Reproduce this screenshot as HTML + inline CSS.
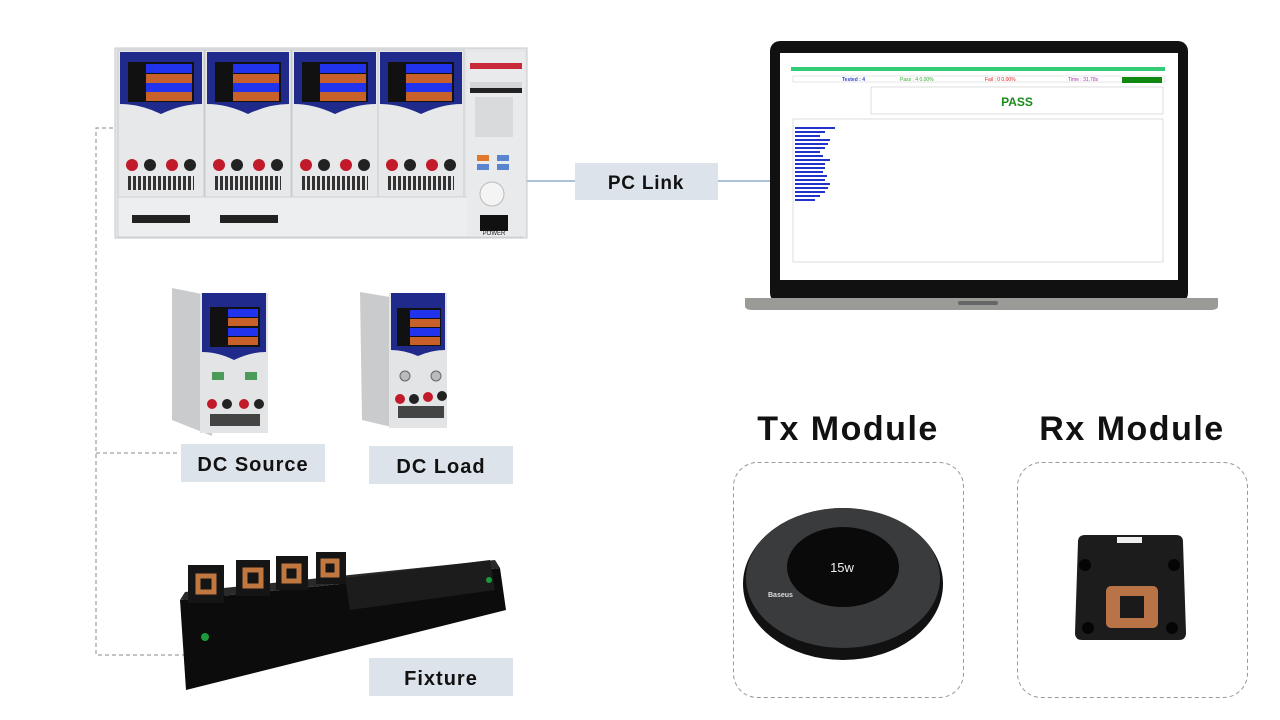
<!DOCTYPE html>
<html><head><meta charset="utf-8"><style>
html,body{margin:0;padding:0;background:#fff;width:1280px;height:720px;overflow:hidden}
svg{display:block}
.lbl{font-family:"Liberation Sans",sans-serif;font-weight:bold;fill:#111}
</style></head><body>
<svg width="1280" height="720" viewBox="0 0 1280 720" xmlns="http://www.w3.org/2000/svg">
<defs>
<g id="mod">
  <rect x="0" y="0" width="86" height="148" fill="#e6e8ea" stroke="#c8cacc"/>
  <path d="M2 2 H84 V54 Q64 54 43 64 Q22 54 2 54 Z" fill="#1f2a8a"/>
  <rect x="10" y="12" width="66" height="40" fill="#111"/>
  <rect x="28" y="14" width="46" height="9" fill="#2233ee"/>
  <rect x="28" y="24" width="46" height="9" fill="#c8602a"/>
  <rect x="28" y="33" width="46" height="9" fill="#2233ee"/>
  <rect x="28" y="42" width="46" height="9" fill="#c8602a"/>
  <circle cx="14" cy="115" r="6" fill="#c21a2a"/><circle cx="32" cy="115" r="6" fill="#222"/>
  <circle cx="54" cy="115" r="6" fill="#c21a2a"/><circle cx="72" cy="115" r="6" fill="#222"/>
  <rect x="10" y="126" width="66" height="14" fill="#333"/>
  <g stroke="#e6e8ea" stroke-width="2"><path d="M14 126V140M19 126V140M24 126V140M29 126V140M34 126V140M39 126V140M44 126V140M49 126V140M54 126V140M59 126V140M64 126V140M69 126V140M74 126V140"/></g>
</g>
</defs>

<g stroke="#888" stroke-dasharray="4,3" fill="none" stroke-width="1">
  <path d="M120 128 H96 V655 H190"/>
  <path d="M96 453 H178"/>
</g>

<rect x="115" y="48" width="412" height="190" fill="#e4e6e8" stroke="#c8cacc"/>
<use href="#mod" x="118" y="50"/>
<use href="#mod" x="205" y="50"/>
<use href="#mod" x="292" y="50"/>
<use href="#mod" x="378" y="50"/>
<rect x="118" y="197" width="404" height="40" fill="#eceef0" stroke="#cfd1d3"/>
<rect x="132" y="215" width="58" height="8" fill="#222"/>
<rect x="220" y="215" width="58" height="8" fill="#222"/>
<rect x="467" y="52" width="58" height="184" fill="#e8eaec"/>
<rect x="470" y="63" width="52" height="6" fill="#c82a3a"/>
<rect x="470" y="82" width="52" height="7" fill="#d4d6d8"/>
<rect x="470" y="88" width="52" height="5" fill="#222"/>
<rect x="475" y="97" width="38" height="40" fill="#d8dadc"/>
<rect x="477" y="155" width="12" height="6" fill="#e2772a"/><rect x="497" y="155" width="12" height="6" fill="#5a84d0"/>
<rect x="477" y="164" width="12" height="6" fill="#5a84d0"/><rect x="497" y="164" width="12" height="6" fill="#5a84d0"/>
<circle cx="492" cy="194" r="12" fill="#f4f4f4" stroke="#bbb"/>
<rect x="480" y="215" width="28" height="16" fill="#111"/>
<text x="494" y="235" font-size="6" font-family="Liberation Sans" text-anchor="middle" fill="#222">POWER</text>

<path d="M527 181 H575 M718 181 H770" stroke="#a8c2da" stroke-width="2"/>
<rect x="575" y="163" width="143" height="37" fill="#dde3ea"/>
<text x="646" y="189" class="lbl" font-size="19" text-anchor="middle" letter-spacing="0.8">PC Link</text>

<rect x="770" y="41" width="418" height="262" rx="10" fill="#111"/>
<rect x="780" y="53" width="398" height="227" fill="#fff"/>
<rect x="791" y="67" width="374" height="4" fill="#33cc77"/>
<rect x="793" y="76" width="372" height="6" fill="#fff" stroke="#ccc" stroke-width="0.5"/>
<text x="842" y="81" font-size="5" fill="#3344cc" font-family="Liberation Sans" font-weight="bold">Tested : 4</text>
<text x="900" y="81" font-size="5" fill="#33aa33" font-family="Liberation Sans">Pass : 4  0.00%</text>
<text x="985" y="81" font-size="5" fill="#dd2222" font-family="Liberation Sans">Fail : 0  0.00%</text>
<text x="1068" y="81" font-size="5" fill="#aa33aa" font-family="Liberation Sans">Time : 31.78s</text>
<rect x="1122" y="77" width="40" height="6" fill="#118811"/>
<rect x="871" y="87" width="292" height="27" fill="#fff" stroke="#bbb" stroke-width="0.5"/>
<text x="1017" y="106" font-size="12" fill="#1a8a1a" font-family="Liberation Sans" font-weight="bold" text-anchor="middle">PASS</text>
<rect x="793" y="119" width="370" height="143" fill="#fff" stroke="#bbb" stroke-width="0.5"/>
<g fill="#2233cc"><rect x="795" y="127" width="40" height="2"/><rect x="795" y="131" width="30" height="2"/><rect x="795" y="135" width="25" height="2"/><rect x="795" y="139" width="35" height="2"/><rect x="795" y="143" width="33" height="2"/><rect x="795" y="147" width="30" height="2"/><rect x="795" y="151" width="25" height="2"/><rect x="795" y="155" width="28" height="2"/><rect x="795" y="159" width="35" height="2"/><rect x="795" y="163" width="30" height="2"/><rect x="795" y="167" width="30" height="2"/><rect x="795" y="171" width="28" height="2"/><rect x="795" y="175" width="32" height="2"/><rect x="795" y="179" width="30" height="2"/><rect x="795" y="183" width="35" height="2"/><rect x="795" y="187" width="33" height="2"/><rect x="795" y="191" width="30" height="2"/><rect x="795" y="195" width="25" height="2"/><rect x="795" y="199" width="20" height="2"/></g>
<path d="M745 298 H1218 V306 Q1218 310 1210 310 H753 Q745 310 745 306Z" fill="#9a9a96"/>
<rect x="958" y="301" width="40" height="4" rx="2" fill="#666"/>

<path d="M172 288 L212 296 V436 L172 420 Z" fill="#c9cbcd"/>
<rect x="200" y="293" width="68" height="140" fill="#e2e4e6"/>
<path d="M202 293 H266 V352 Q250 352 234 360 Q218 352 202 352Z" fill="#1f2a8a"/>
<rect x="210" y="307" width="50" height="40" fill="#111"/>
<rect x="228" y="309" width="30" height="8" fill="#2233ee"/><rect x="228" y="318" width="30" height="8" fill="#c8602a"/>
<rect x="228" y="328" width="30" height="8" fill="#2233ee"/><rect x="228" y="337" width="30" height="8" fill="#c8602a"/>
<rect x="212" y="372" width="12" height="8" fill="#4a9a5a"/><rect x="245" y="372" width="12" height="8" fill="#4a9a5a"/>
<circle cx="212" cy="404" r="5" fill="#c21a2a"/><circle cx="227" cy="404" r="5" fill="#222"/><circle cx="244" cy="404" r="5" fill="#c21a2a"/><circle cx="259" cy="404" r="5" fill="#222"/>
<rect x="210" y="414" width="50" height="12" fill="#444"/>
<rect x="181" y="444" width="144" height="38" fill="#dde3ea"/>
<text x="253" y="471" class="lbl" font-size="20" text-anchor="middle" letter-spacing="1">DC Source</text>

<path d="M360 292 L396 298 V428 L362 420 Z" fill="#c9cbcd"/>
<rect x="389" y="293" width="58" height="135" fill="#e2e4e6"/>
<path d="M391 293 H445 V350 Q432 350 418 356 Q404 350 391 350Z" fill="#1f2a8a"/>
<rect x="397" y="308" width="44" height="38" fill="#111"/>
<rect x="410" y="310" width="30" height="8" fill="#2233ee"/><rect x="410" y="319" width="30" height="8" fill="#c8602a"/>
<rect x="410" y="328" width="30" height="8" fill="#2233ee"/><rect x="410" y="337" width="30" height="8" fill="#c8602a"/>
<circle cx="405" cy="376" r="5" fill="#bbb" stroke="#666"/><circle cx="436" cy="376" r="5" fill="#bbb" stroke="#666"/>
<circle cx="400" cy="399" r="5" fill="#c21a2a"/><circle cx="414" cy="399" r="5" fill="#222"/><circle cx="428" cy="397" r="5" fill="#c21a2a"/><circle cx="442" cy="396" r="5" fill="#222"/>
<rect x="398" y="406" width="46" height="12" fill="#444"/>
<rect x="369" y="446" width="144" height="38" fill="#dde3ea"/>
<text x="441" y="473" class="lbl" font-size="20" text-anchor="middle" letter-spacing="1">DC Load</text>

<path d="M180 600 L500 568 L506 610 L186 690 Z" fill="#0c0c0c"/>
<path d="M180 600 L500 568 L495 560 L185 592Z" fill="#2a2a2a"/>
<path d="M345 578 L490 560 L495 590 L350 610Z" fill="#1c1c1c"/>
<g fill="#151515"><rect x="188" y="565" width="36" height="38"/><rect x="236" y="560" width="34" height="36"/><rect x="276" y="556" width="32" height="34"/><rect x="316" y="552" width="30" height="32"/></g>
<g fill="none" stroke="#c07840" stroke-width="5"><rect x="198" y="576" width="16" height="16"/><rect x="245" y="570" width="16" height="16"/><rect x="284" y="566" width="15" height="15"/><rect x="323" y="561" width="14" height="14"/></g>
<circle cx="205" cy="637" r="4" fill="#1a9a3a"/><circle cx="489" cy="580" r="3" fill="#1a9a3a"/>
<rect x="369" y="658" width="144" height="38" fill="#dde3ea"/>
<text x="441" y="685" class="lbl" font-size="20" text-anchor="middle" letter-spacing="1">Fixture</text>

<text x="848" y="440" class="lbl" font-size="34" text-anchor="middle" letter-spacing="1.5">Tx Module</text>
<text x="1132" y="440" class="lbl" font-size="34" text-anchor="middle" letter-spacing="1.5">Rx Module</text>
<rect x="733.5" y="462.5" width="230" height="235" rx="24" fill="none" stroke="#999" stroke-dasharray="4,3"/>
<rect x="1017.5" y="462.5" width="230" height="235" rx="24" fill="none" stroke="#999" stroke-dasharray="4,3"/>
<ellipse cx="843" cy="584" rx="100" ry="76" fill="#111"/>
<ellipse cx="843" cy="578" rx="97" ry="70" fill="#3a3b3d"/>
<ellipse cx="843" cy="567" rx="56" ry="40" fill="#0a0a0a"/>
<text x="842" y="572" font-size="13" fill="#eee" font-family="Liberation Sans" text-anchor="middle">15w</text>
<text x="768" y="597" font-size="7" fill="#ddd" font-family="Liberation Sans" font-weight="bold">Baseus</text>
<path d="M1078 542 Q1078 535 1085 535 H1176 Q1183 535 1183 542 L1186 633 Q1186 640 1179 640 H1082 Q1075 640 1075 633Z" fill="#1c1c1c"/>
<rect x="1117" y="537" width="25" height="6" fill="#eee"/>
<circle cx="1085" cy="565" r="6" fill="#050505"/><circle cx="1174" cy="565" r="6" fill="#050505"/>
<circle cx="1088" cy="628" r="6" fill="#050505"/><circle cx="1172" cy="628" r="6" fill="#050505"/>
<rect x="1106" y="586" width="52" height="42" rx="5" fill="#b87446"/>
<rect x="1120" y="596" width="24" height="22" fill="#1a1a1a"/>
</svg>
</body></html>
